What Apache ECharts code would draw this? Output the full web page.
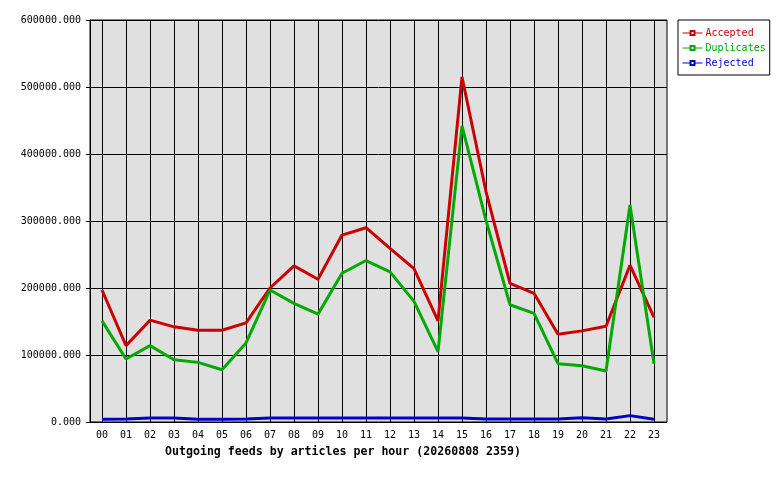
<!DOCTYPE html>
<html>
<head>
<meta charset="utf-8">
<script src="https://cdn.jsdelivr.net/npm/echarts@6/dist/echarts.min.js"></script>
<style>
  html, body { margin: 0; padding: 0; background: #fff; }
  #main { width: 780px; height: 480px; }
</style>
</head>
<body>
<div id="main"></div>
<script>
// hours of the day
const hours = ['00', '01', '02', '03', '04', '05', '06', '07', '08', '09', '10', '11',
               '12', '13', '14', '15', '16', '17', '18', '19', '20', '21', '22', '23'];

// articles per hour
const accepted = [197000, 114000, 152000, 142000, 137000, 137000, 148000, 200000,
                  233000, 213000, 279000, 290000, 259000, 229000, 151000, 515000,
                  344000, 207000, 192000, 131000, 136000, 143000, 234000, 156000];
const duplicates = [151000, 94000, 114000, 93000, 89000, 78000, 118000, 197000,
                    177000, 161000, 222000, 241000, 224000, 180000, 105000, 442000,
                    301000, 175000, 162000, 87000, 84000, 76000, 324000, 87000];
const rejected = [4000, 4500, 6000, 6000, 4000, 4000, 4500, 6000,
                  6000, 6000, 6000, 6000, 6000, 6000, 6000, 6000,
                  4500, 4500, 4500, 4500, 6500, 4500, 9500, 4000];

const yMax = 600000;
const yStep = 100000;

const mono = 'DejaVu Sans Mono';

const chart = echarts.init(document.getElementById('main'));

const lineSeries = (name, data, color) => ({
    name: name,
    type: 'line',
    xAxisIndex: 1,
    yAxisIndex: 1,
    data: data,
    symbol: 'emptyRect',
    showSymbol: false,
    animation: false,
    lineStyle: { color: color, width: 3 },
    itemStyle: { color: color }
});

const option = {
    backgroundColor: '#ffffff',
    animation: false,
    title: {
        text: 'Outgoing feeds by articles per hour (20260808 2359)',
        left: 165,
        top: 446,
        padding: 0,
        textStyle: { fontFamily: mono, fontSize: 11.6, fontWeight: 'bold', color: '#000' }
    },
    legend: {
        orient: 'vertical',
        left: 678,
        top: 20,
        padding: [7, 4, 6, 4],
        itemGap: 3,
        itemWidth: 20,
        itemHeight: 5,
        borderColor: '#000',
        borderWidth: 1,
        backgroundColor: '#fff',
        lineStyle: { width: 1 },
        itemStyle: { borderWidth: 1 },
        textStyle: { fontFamily: mono, fontSize: 10, lineHeight: 12, padding: [0, 0, 0, -2] },
        data: [
            { name: 'Accepted', textStyle: { color: '#cc0000' } },
            { name: 'Duplicates', textStyle: { color: '#00aa00' } },
            { name: 'Rejected', textStyle: { color: '#0000cc' } }
        ]
    },
    grid: [
        { left: 90, top: 20, width: 577, height: 402, show: true,
          backgroundColor: '#e0e0e0', borderColor: '#000', borderWidth: 1 },
        { left: 102, top: 20, width: 552, height: 402 }
    ],
    xAxis: [
        { gridIndex: 0, type: 'value', show: false },
        {
            gridIndex: 1,
            type: 'category',
            data: hours,
            boundaryGap: false,
            axisLine: { show: false },
            axisTick: { show: false },
            axisLabel: { interval: 0, margin: 8, color: '#000', fontFamily: mono, fontSize: 10 },
            splitLine: { show: true, interval: 0, lineStyle: { color: '#000', width: 1 } }
        }
    ],
    yAxis: [
        {
            gridIndex: 0,
            type: 'value',
            min: 0,
            max: yMax,
            interval: yStep,
            axisLine: { show: true, lineStyle: { color: '#000' } },
            axisTick: { show: true, length: 4, lineStyle: { color: '#000' } },
            axisLabel: { margin: 9, color: '#000', fontFamily: mono, fontSize: 10,
                         formatter: v => v.toFixed(3) },
            splitLine: { show: true, lineStyle: { color: '#000', width: 1 } }
        },
        { gridIndex: 1, type: 'value', min: 0, max: yMax, show: false }
    ],
    series: [
        lineSeries('Accepted', accepted, '#cc0000'),
        lineSeries('Duplicates', duplicates, '#00aa00'),
        lineSeries('Rejected', rejected, '#0000cc')
    ]
};

chart.setOption(option);
</script>
</body>
</html>
